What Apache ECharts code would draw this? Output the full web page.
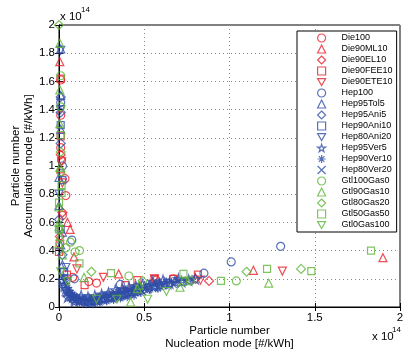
<!DOCTYPE html>
<html><head><meta charset="utf-8">
<script src="https://cdn.jsdelivr.net/npm/echarts@6/dist/echarts.min.js"></script>
<style>html,body{margin:0;padding:0;background:#fff}#c{width:405px;height:356px}</style>
</head><body><div id="c"></div>
<script>
// values in units of 1e14 #/kWh : [nucleation, accumulation]
const xTicks = [0, 0.5, 1, 1.5, 2];
const yTicks = [0, 0.2, 0.4, 0.6, 0.8, 1, 1.2, 1.4, 1.6, 1.8, 2];
const seriesNames = ["Die100","Die90ML10","Die90EL10","Die90FEE10","Die90ETE10","Hep100","Hep95Tol5","Hep95Ani5","Hep90Ani10","Hep80Ani20","Hep95Ver5","Hep90Ver10","Hep80Ver20","Gtl100Gas0","Gtl90Gas10","Gtl80Gas20","Gtl50Gas50","Gtl0Gas100"];

const Die100 = [[0.01,1.61],[0.01,1.36],[0.01,1.13],[0.015,1.04],[0.035,0.91],[0.04,0.79],[0.02,0.65],[0.22,0.17],[0.08,0.21],[0.175,0.18],[0.57,0.19],[0.67,0.2],[0.005,0.45]];
const Die90ML10 = [[0.005,1.74],[0.05,0.6],[0.065,0.55],[0.088,0.355],[0.35,0.235],[1.14,0.26],[1.9,0.35],[0.01,0.98]];
const Die90EL10 = [[0.01,1.08],[0.02,0.67],[0.88,0.185],[0.8,0.2],[0.005,0.5]];
const Die90FEE10 = [[0.01,1.62],[0.01,1.21],[0.0,0.39],[0.047,0.23],[0.15,0.155],[0.39,0.155],[0.56,0.2],[0.67,0.2],[0.815,0.23],[0.46,0.19]];
const Die90ETE10 = [[0.015,1.03],[0.105,0.27],[0.26,0.21],[0.56,0.2],[0.83,0.19],[1.31,0.255],[0.02,0.88]];
const Hep100 = [[0.01,1.45],[0.075,0.475],[0.36,0.16],[0.85,0.24],[1.01,0.32],[1.3,0.43],[0.09,0.2],[0.02,1.0]];
const Hep95Tol5 = [[0.01,1.83],[0.01,1.5],[0.01,1.26],[0.0,0.92],[0.0,0.72],[0.02,0.53],[0.01,0.44],[0.02,0.3]];
const Hep95Ani5 = [[0.01,1.49],[0.01,1.16],[0.0,0.62],[0.02,0.37],[0.01,1.38]];
const Hep90Ani10 = [[0.01,1.29],[0.02,0.9],[0.01,0.55],[0.03,0.25]];
const Hep80Ani20 = [[0.01,1.82],[0.01,1.4],[0.0,0.8],[0.04,0.28],[0.03,0.2]];
const Hep95Ver5 = [[0.02,0.19],[0.03,0.16],[0.04,0.13],[0.05,0.11],[0.06,0.09],[0.07,0.08],[0.08,0.07],[0.09,0.06],[0.1,0.06],[0.12,0.05],[0.14,0.05],[0.16,0.04],[0.18,0.05],[0.2,0.04],[0.22,0.05],[0.24,0.06],[0.26,0.06],[0.28,0.07],[0.3,0.07],[0.32,0.08],[0.34,0.09],[0.36,0.09],[0.38,0.1],[0.4,0.1],[0.42,0.11],[0.44,0.12],[0.46,0.12],[0.48,0.13],[0.5,0.14],[0.53,0.15],[0.56,0.15],[0.59,0.16],[0.62,0.17],[0.65,0.17],[0.68,0.18],[0.72,0.18],[0.76,0.19],[0.8,0.2],[0.05,0.07],[0.09,0.04],[0.13,0.08],[0.17,0.07],[0.21,0.08],[0.25,0.09],[0.29,0.1],[0.33,0.12],[0.37,0.13],[0.41,0.14],[0.45,0.15],[0.49,0.16],[0.55,0.18],[0.61,0.19],[0.7,0.2]];
const Hep90Ver10 = [[0.03,0.21],[0.04,0.17],[0.05,0.14],[0.06,0.12],[0.07,0.1],[0.08,0.09],[0.09,0.08],[0.11,0.07],[0.13,0.06],[0.15,0.06],[0.17,0.06],[0.19,0.06],[0.21,0.06],[0.23,0.07],[0.25,0.08],[0.27,0.08],[0.29,0.09],[0.31,0.09],[0.33,0.1],[0.35,0.11],[0.37,0.11],[0.39,0.12],[0.41,0.12],[0.43,0.13],[0.45,0.14],[0.47,0.14],[0.51,0.15],[0.54,0.16],[0.57,0.17],[0.6,0.17],[0.63,0.18],[0.66,0.18],[0.7,0.19],[0.74,0.19],[0.78,0.2],[0.12,0.03],[0.16,0.02],[0.2,0.02],[0.24,0.03],[0.28,0.04],[0.32,0.05],[0.36,0.06],[0.4,0.07],[0.44,0.08],[0.48,0.1],[0.53,0.12],[0.58,0.13]];
const Hep80Ver20 = [[0.02,0.16],[0.03,0.13],[0.04,0.1],[0.06,0.08],[0.08,0.06],[0.1,0.05],[0.11,0.04],[0.13,0.04],[0.15,0.03],[0.17,0.04],[0.19,0.03],[0.21,0.04],[0.23,0.04],[0.25,0.05],[0.27,0.05],[0.29,0.06],[0.31,0.06],[0.33,0.07],[0.35,0.07],[0.37,0.08],[0.39,0.08],[0.41,0.09],[0.43,0.1],[0.45,0.1],[0.49,0.11],[0.52,0.12],[0.55,0.13],[0.58,0.14],[0.61,0.15],[0.64,0.15],[0.67,0.16]];
const Gtl100Gas0 = [[0.01,1.64],[0.01,1.42],[0.01,0.96],[0.067,0.46],[0.04,0.42],[0.094,0.39],[0.12,0.4],[0.41,0.22],[0.77,0.185],[1.04,0.185],[0.74,0.18]];
const Gtl90Gas10 = [[0.005,1.87],[0.005,1.54],[0.005,1.3],[0.005,0.99],[0.0,0.71],[0.0,0.6],[0.0,0.57],[0.005,0.5],[0.0,0.45],[0.147,0.21],[0.46,0.13],[0.47,0.155],[0.71,0.14],[1.23,0.17],[0.02,0.37],[0.42,0.035]];
const Gtl80Gas20 = [[0.0,2.0],[0.19,0.25],[0.49,0.185],[1.1,0.25],[1.42,0.27],[0.01,1.1]];
const Gtl50Gas50 = [[0.01,1.22],[0.015,0.865],[0.015,0.81],[0.0,0.74],[0.0,0.55],[0.12,0.31],[0.305,0.24],[0.73,0.235],[0.95,0.185],[1.22,0.27],[1.48,0.255],[1.83,0.4]];
const Gtl0Gas100 = [[0.05,0.18],[0.22,0.055],[0.34,0.055],[0.52,0.055],[0.63,0.11],[0.01,0.25]];

const seriesData = [Die100,Die90ML10,Die90EL10,Die90FEE10,Die90ETE10,Hep100,Hep95Tol5,Hep95Ani5,Hep90Ani10,Hep80Ani20,Hep95Ver5,Hep90Ver10,Hep80Ver20,Gtl100Gas0,Gtl90Gas10,Gtl80Gas20,Gtl50Gas50,Gtl0Gas100];

const RED = '#e8202a', BLUE = '#2f4ea6', GREEN = '#5fb53a';
const DOWN = 'path://M0,0L20,0L10,17.3Z';
const STAR = 'path://M50,0L61,35L98,35L68,57L79,91L50,70L21,91L32,57L2,35L39,35Z';
const AST = 'path://M5,0L5,10M0,5L10,5M1.5,1.5L8.5,8.5M8.5,1.5L1.5,8.5';
const XM = 'path://M0,0L10,10M10,0L0,10';
const styles = [
  [RED,'circle',8],[RED,'triangle',8],[RED,'diamond',9],[RED,'rect',7],[RED,DOWN,8],
  [BLUE,'circle',8],[BLUE,'triangle',8],[BLUE,'diamond',9],[BLUE,'rect',7],[BLUE,DOWN,8],[BLUE,STAR,10],[BLUE,AST,8],[BLUE,XM,7],
  [GREEN,'circle',8],[GREEN,'triangle',8],[GREEN,'diamond',9],[GREEN,'rect',7],[GREEN,DOWN,8]
];

const series = seriesNames.map((n,i)=>({
  name:n, type:'scatter', data:seriesData[i], symbol:styles[i][1], symbolSize:styles[i][2],
  itemStyle:{color:'transparent', borderColor:styles[i][0], borderWidth:1.2},
  emphasis:{disabled:true}, xAxisIndex:0, yAxisIndex:0
}));

const chart = echarts.init(document.getElementById('c'), null, {renderer:'canvas'});
const font = 'Liberation Sans, Arial, Helvetica, sans-serif';
chart.setOption({
  animation:false,
  backgroundColor:'#fff',
  textStyle:{fontFamily:font},
  grid:{left:59, top:25, right:5, bottom:49, show:true, borderColor:'#000', borderWidth:1, containLabel:false, outerBoundsMode:'none'},
  xAxis:[{
    type:'value', min:xTicks[0], max:xTicks[xTicks.length-1], interval:0.5,
    axisLine:{show:true, lineStyle:{color:'#000'}},
    axisTick:{inside:true, length:4, lineStyle:{color:'#000'}},
    axisLabel:{color:'#000', fontSize:11.5, margin:5, fontFamily:font},
    splitLine:{show:true, lineStyle:{color:'#8a8a8a', type:[1,3], width:1}},
    name:'Particle number\nNucleation mode [#/kWh]', nameLocation:'middle', nameGap:17, nameMoveOverlap:false,
    nameTextStyle:{color:'#000', fontSize:11.5, lineHeight:13, fontFamily:font}
  },{
    type:'value', position:'top', min:0, max:2, interval:0.5,
    axisLine:{show:true, lineStyle:{color:'#000'}},
    axisTick:{inside:true, length:4, lineStyle:{color:'#000'}},
    axisLabel:{show:false}, splitLine:{show:false}
  }],
  yAxis:[{
    type:'value', min:yTicks[0], max:yTicks[yTicks.length-1], interval:0.2,
    axisLine:{show:true, lineStyle:{color:'#000'}},
    axisTick:{inside:true, length:4, lineStyle:{color:'#000'}},
    axisLabel:{color:'#000', fontSize:11.5, margin:4, fontFamily:font},
    splitLine:{show:true, lineStyle:{color:'#8a8a8a', type:[1,3], width:1}},
    name:'Particle number\nAccumulation mode [#/kWh]', nameLocation:'middle', nameGap:24, nameRotate:90, nameMoveOverlap:false,
    nameTextStyle:{color:'#000', fontSize:11.5, lineHeight:13, fontFamily:font}
  },{
    type:'value', position:'right', min:0, max:2, interval:0.2,
    axisLine:{show:true, lineStyle:{color:'#000'}},
    axisTick:{inside:true, length:4, lineStyle:{color:'#000'}},
    axisLabel:{show:false}, splitLine:{show:false}
  }],
  legend:{
    orient:'vertical', left:297, top:31, backgroundColor:'#fff', borderColor:'#000', borderWidth:1,
    padding:[2,4,2,20], itemWidth:8, itemHeight:8, itemGap:1,
    textStyle:{color:'#000', fontSize:9, fontFamily:font, lineHeight:10, padding:[0,0,0,11]},
    itemStyle:{borderWidth:1.2},
    data: seriesNames.map((n,i)=>({name:n, icon:styles[i][1]}))
  },
  graphic:[
    {type:'text', left:60, top:11, style:{text:'x 10', fontSize:11.5, fill:'#000', fontFamily:font}},
    {type:'text', left:81, top:6, style:{text:'14', fontSize:8, fill:'#000', fontFamily:font}},
    {type:'text', left:372, top:331, style:{text:'x 10', fontSize:11.5, fill:'#000', fontFamily:font}},
    {type:'text', left:392, top:326, style:{text:'14', fontSize:8, fill:'#000', fontFamily:font}}
  ],
  series: series
});
</script></body></html>
